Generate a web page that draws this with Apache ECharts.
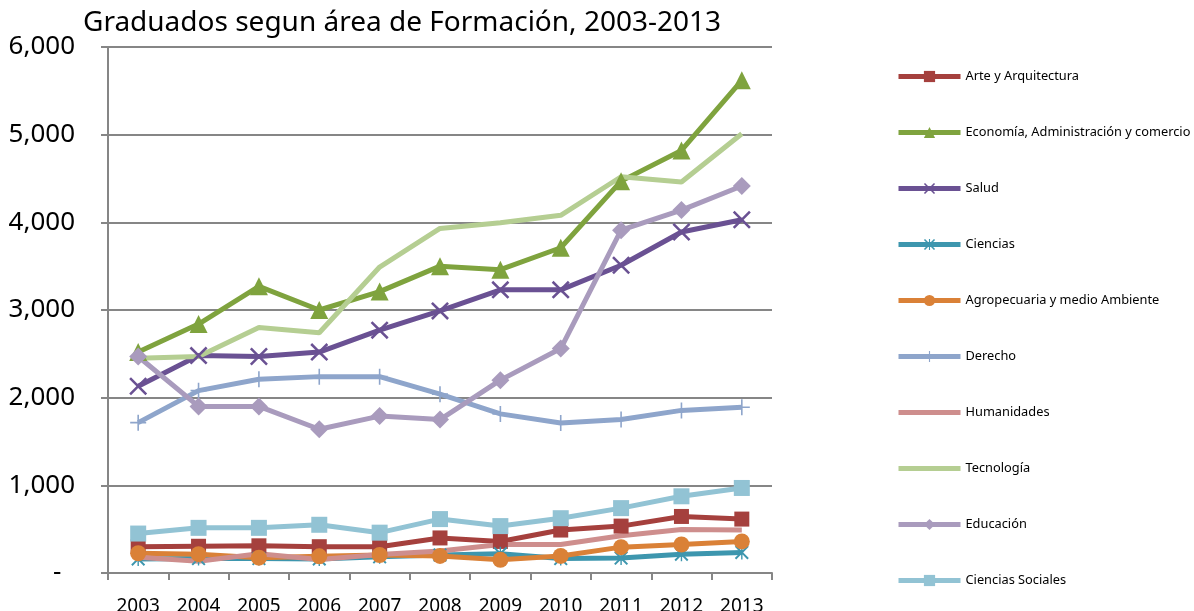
<!DOCTYPE html>
<html>
<head>
<meta charset="utf-8">
<title>Graduados segun área de Formación, 2003-2013</title>
<script src="https://cdn.jsdelivr.net/npm/echarts@6/dist/echarts.min.js"></script>
<style>
    html, body { margin: 0; padding: 0; background: #fff; }
    #main { width: 1194px; height: 611px; }
</style>
</head>
<body>
<div id="main"></div>
<script>
// años
var years = ['2003','2004','2005','2006','2007','2008','2009','2010','2011','2012','2013'];
var yTicks = [0, 1000, 2000, 3000, 4000, 5000, 6000];

// graduados por área
var arte        = [300, 305, 310, 300, 300, 400, 360, 490, 535, 645, 615];
var economia    = [2520, 2840, 3270, 3000, 3210, 3500, 3460, 3710, 4470, 4820, 5620];
var salud       = [2130, 2480, 2470, 2520, 2770, 2990, 3230, 3230, 3510, 3890, 4030];
var ciencias    = [160, 165, 165, 160, 185, 205, 220, 165, 170, 215, 235];
var agro        = [225, 215, 175, 190, 205, 195, 150, 195, 295, 325, 360];
var derecho     = [1715, 2080, 2210, 2240, 2240, 2040, 1815, 1710, 1750, 1855, 1890];
var humanidades = [180, 135, 220, 155, 210, 250, 325, 325, 425, 495, 490];
var tecnologia  = [2450, 2470, 2800, 2740, 3490, 3930, 3995, 4080, 4520, 4460, 5010];
var educacion   = [2470, 1900, 1900, 1640, 1790, 1750, 2200, 2560, 3910, 4140, 4415];
var sociales    = [450, 515, 515, 550, 460, 615, 535, 625, 740, 875, 970];

// simbolos tipo excel
var symX    = 'path://M0,1 L1,0 L5,4 L9,0 L10,1 L6,5 L10,9 L9,10 L5,6 L1,10 L0,9 L4,5 Z';
var symPlus = 'path://M4.5,0 L5.5,0 L5.5,4.5 L10,4.5 L10,5.5 L5.5,5.5 L5.5,10 L4.5,10 L4.5,5.5 L0,5.5 L0,4.5 L4.5,4.5 Z';
var symStar = 'path://M0,1 L1,0 L5,4 L9,0 L10,1 L6,5 L10,9 L9,10 L5,6 L1,10 L0,9 L4,5 Z M4.5,0 L5.5,0 L5.5,10 L4.5,10 Z';

var font = 'Noto Sans';

function mkSerie(name, data, color, symbol, size){
    var noMark = (symbol == 'none');
    return {
        name: name,
        type: 'line',
        data: data,
        symbol: noMark ? 'circle' : symbol,
        symbolSize: size,
        showSymbol: !noMark,
        lineStyle: { width: 5, color: color },
        // sin marcador: simbolo transparente para que la leyenda muestre solo la linea
        itemStyle: { color: noMark ? 'rgba(0,0,0,0)' : color },
        z: 2
    };
}

var series = [
    mkSerie('Arte y Arquitectura', arte, '#A5403D', 'rect', 15),
    mkSerie('Economía, Administración y comercio', economia, '#7FA33E', 'triangle', 18),
    mkSerie('Salud', salud, '#6A5193', symX, 18),
    mkSerie('Ciencias', ciencias, '#3D96AE', symStar, 14),
    mkSerie('Agropecuaria y medio Ambiente', agro, '#DA8137', 'circle', 16),
    mkSerie('Derecho', derecho, '#8EA5CB', symPlus, 16),
    mkSerie('Humanidades', humanidades, '#CE8E8D', 'none', 0),
    mkSerie('Tecnología', tecnologia, '#B5CE92', 'none', 0),
    mkSerie('Educación', educacion, '#A99BBD', 'diamond', 18),
    mkSerie('Ciencias Sociales', sociales, '#92C3D4', 'rect', 16)
];

var myChart = echarts.init(document.getElementById('main'));
var option = {
    animation: false,
    backgroundColor: '#fff',
    title: {
        text: 'Graduados segun área de Formación, 2003-2013',
        left: 78,
        top: 4,
        textStyle: { fontFamily: font, fontSize: 28, fontWeight: 'normal', color: '#000' }
    },
    legend: {
        orient: 'vertical',
        left: 891,
        top: 65,
        itemWidth: 62,
        itemHeight: 14,
        itemGap: 43,
        lineStyle: { width: 5 },
        textStyle: { fontFamily: font, fontSize: 12.8, color: '#000' },
        data: series.map(function(s){ return s.name; })
    },
    grid: { left: 108, right: 422, top: 47, bottom: 38, outerBoundsMode: 'none' },
    xAxis: {
        type: 'category',
        data: years,
        boundaryGap: true,
        axisLine: { lineStyle: { color: '#868686', width: 2 } },
        axisTick: { show: true, length: 7, lineStyle: { color: '#868686', width: 2 } },
        axisLabel: { fontFamily: font, fontSize: 19, color: '#000', margin: 24 }
    },
    yAxis: {
        type: 'value',
        min: yTicks[0],
        max: yTicks[yTicks.length - 1],
        interval: 1000,
        axisLine: { show: true, lineStyle: { color: '#868686', width: 2 } },
        axisTick: { show: true, length: 7, lineStyle: { color: '#868686', width: 2 } },
        splitLine: { lineStyle: { color: '#868686', width: 2 } },
        axisLabel: {
            fontFamily: font, fontSize: 26, color: '#000', margin: 33,
            formatter: function(v){
                if (v == 0) return '-  ';
                return v.toLocaleString('en-US');
            }
        }
    },
    series: series
};
myChart.setOption(option);
</script>
</body>
</html>
